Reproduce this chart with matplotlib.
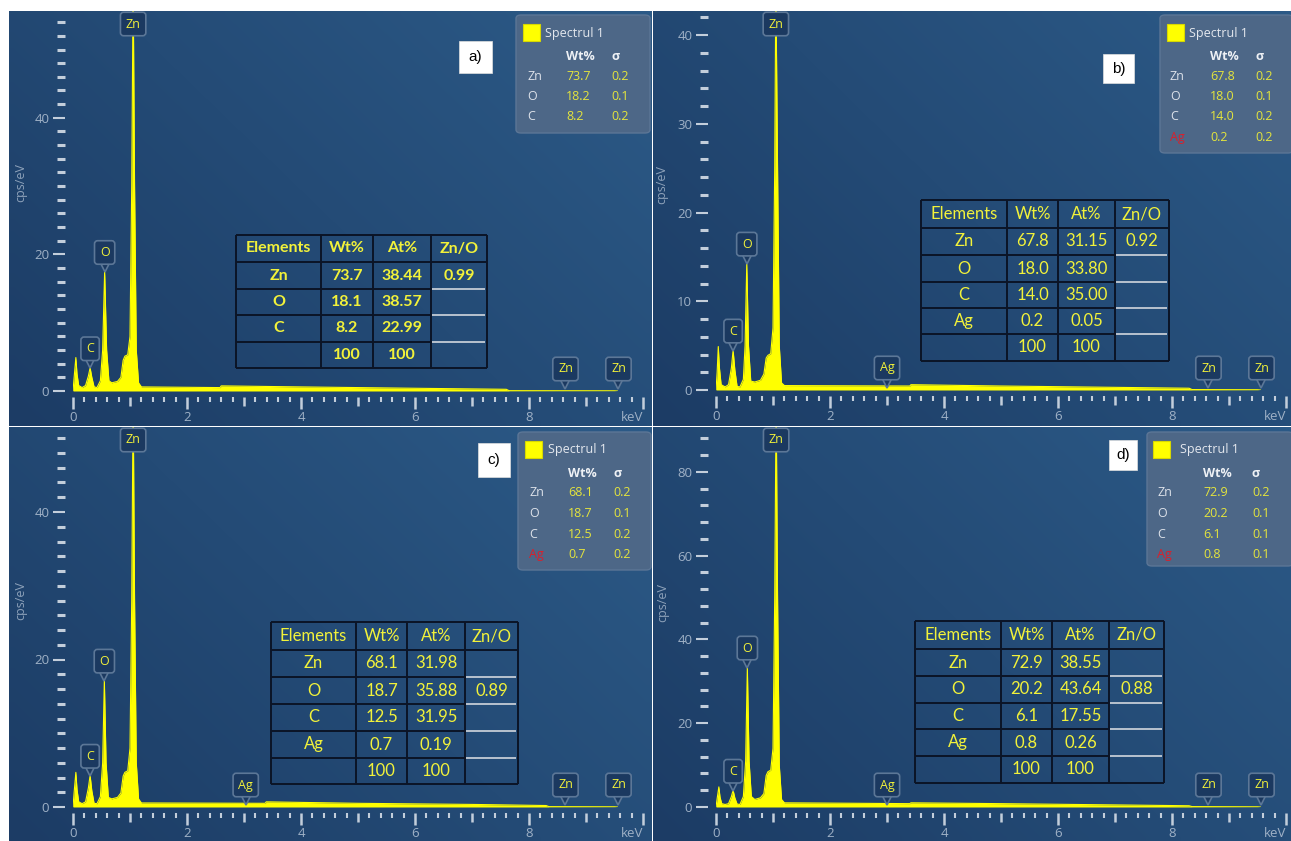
import numpy as np
import matplotlib
matplotlib.use('Agg')
import matplotlib.pyplot as plt
from matplotlib.patches import FancyBboxPatch, Rectangle
from matplotlib.lines import Line2D
from matplotlib.ticker import MultipleLocator, FixedLocator
import matplotlib.transforms as mtransforms
from matplotlib.colors import to_rgb

# ---------------- data ----------------
# EDS spectra (energy keV, counts cps/eV)
energy_a = [0.00, 0.02, 0.05, 0.07, 0.10, 0.16, 0.22, 0.27, 0.30, 0.33, 0.37, 0.42, 0.48, 0.52, 0.555,
            0.59, 0.63, 0.68, 0.78, 0.84, 0.88, 0.91, 0.96, 1.00, 1.03, 1.055, 1.08, 1.11, 1.15, 1.20,
            2.58, 2.60, 4.00, 6.00, 7.60, 7.65, 9.50, 9.55]
counts_a = [0.0, 2.0, 4.9, 2.5, 0.8, 0.5, 0.8, 2.2, 3.4, 2.0, 0.6, 0.5, 1.5, 6.0, 17.5,
            6.0, 1.5, 1.2, 1.4, 2.0, 4.5, 5.1, 5.3, 8.0, 30.0, 60.0, 30.0, 6.0, 1.2, 0.6,
            0.5, 0.75, 0.6, 0.4, 0.25, 0.05, 0.03, 0.0]

energy_b = [0.00, 0.02, 0.04, 0.06, 0.09, 0.16, 0.22, 0.27, 0.30, 0.33, 0.37, 0.42, 0.48, 0.51, 0.54,
            0.57, 0.61, 0.68, 0.78, 0.84, 0.88, 0.91, 0.96, 1.00, 1.03, 1.05, 1.08, 1.11, 1.15, 1.20,
            3.40, 3.42, 5.00, 7.00, 8.30, 8.35, 9.50, 9.55]
counts_b = [0.0, 2.0, 4.9, 2.5, 0.6, 0.35, 0.6, 2.5, 4.5, 2.3, 0.4, 0.35, 1.2, 5.0, 14.3,
            5.0, 1.0, 0.9, 1.1, 1.8, 3.6, 3.9, 4.1, 7.0, 25.0, 46.0, 25.0, 5.0, 0.8, 0.5,
            0.45, 0.6, 0.45, 0.3, 0.2, 0.05, 0.03, 0.0]

energy_c = [0.00, 0.02, 0.05, 0.07, 0.10, 0.16, 0.22, 0.27, 0.30, 0.33, 0.37, 0.42, 0.48, 0.52, 0.55,
            0.58, 0.62, 0.68, 0.78, 0.84, 0.88, 0.91, 0.96, 1.00, 1.03, 1.055, 1.08, 1.11, 1.15, 1.20,
            3.37, 3.39, 5.00, 7.00, 8.30, 8.35, 9.50, 9.55]
counts_c = [0.0, 2.0, 4.7, 2.4, 0.7, 0.45, 0.7, 2.6, 4.3, 2.2, 0.5, 0.45, 1.4, 6.0, 17.2,
            6.0, 1.3, 1.1, 1.3, 1.9, 4.2, 4.7, 4.9, 8.0, 28.0, 56.0, 28.0, 6.0, 1.1, 0.55,
            0.5, 0.7, 0.5, 0.35, 0.2, 0.05, 0.03, 0.0]

energy_d = [0.00, 0.02, 0.05, 0.07, 0.10, 0.16, 0.22, 0.27, 0.30, 0.33, 0.37, 0.42, 0.48, 0.52, 0.55,
            0.58, 0.62, 0.68, 0.78, 0.84, 0.88, 0.91, 0.96, 1.00, 1.03, 1.055, 1.08, 1.11, 1.15, 1.20,
            3.40, 3.42, 5.00, 7.00, 8.30, 8.35, 9.50, 9.55]
counts_d = [0.0, 2.0, 4.8, 2.4, 0.8, 0.6, 0.8, 2.5, 4.0, 2.2, 0.7, 0.6, 2.5, 11.0, 33.4,
            11.0, 2.5, 1.8, 2.2, 3.2, 7.5, 8.4, 8.8, 14.0, 50.0, 98.0, 50.0, 10.0, 1.8, 1.0,
            0.8, 1.0, 0.8, 0.5, 0.3, 0.1, 0.05, 0.0]

# peak markers
peak_names_a = ['C', 'O', 'Zn', 'Zn', 'Zn']
peak_keV_a = [0.30, 0.555, 1.055, 8.64, 9.57]
peak_names_b = ['C', 'O', 'Zn', 'Ag', 'Zn', 'Zn']
peak_keV_b = [0.30, 0.54, 1.05, 3.00, 8.64, 9.57]
peak_names_c = ['C', 'O', 'Zn', 'Ag', 'Zn', 'Zn']
peak_keV_c = [0.30, 0.55, 1.055, 3.03, 8.64, 9.57]
peak_names_d = ['C', 'O', 'Zn', 'Ag', 'Zn', 'Zn']
peak_keV_d = [0.30, 0.55, 1.055, 3.00, 8.64, 9.57]

# legend boxes (Spectrul 1)
leg_elems_a = ['Zn', 'O', 'C']
leg_wt_a = ['73.7', '18.2', '8.2']
leg_sig_a = ['0.2', '0.1', '0.2']
leg_elems_b = ['Zn', 'O', 'C', 'Ag']
leg_wt_b = ['67.8', '18.0', '14.0', '0.2']
leg_sig_b = ['0.2', '0.1', '0.2', '0.2']
leg_elems_c = ['Zn', 'O', 'C', 'Ag']
leg_wt_c = ['68.1', '18.7', '12.5', '0.7']
leg_sig_c = ['0.2', '0.1', '0.2', '0.2']
leg_elems_d = ['Zn', 'O', 'C', 'Ag']
leg_wt_d = ['72.9', '20.2', '6.1', '0.8']
leg_sig_d = ['0.2', '0.1', '0.1', '0.1']

# composition tables
table_header = ['Elements', 'Wt%', 'At%', 'Zn/O']
tab_elems_a = ['Zn', 'O', 'C', '']
tab_wt_a = ['73.7', '18.1', '8.2', '100']
tab_at_a = ['38.44', '38.57', '22.99', '100']
tab_ratio_a = ['0.99', '', '', '']
tab_elems_b = ['Zn', 'O', 'C', 'Ag', '']
tab_wt_b = ['67.8', '18.0', '14.0', '0.2', '100']
tab_at_b = ['31.15', '33.80', '35.00', '0.05', '100']
tab_ratio_b = ['0.92', '', '', '', '']
tab_elems_c = ['Zn', 'O', 'C', 'Ag', '']
tab_wt_c = ['68.1', '18.7', '12.5', '0.7', '100']
tab_at_c = ['31.98', '35.88', '31.95', '0.19', '100']
tab_ratio_c = ['', '0.89', '', '', '']
tab_elems_d = ['Zn', 'O', 'C', 'Ag', '']
tab_wt_d = ['72.9', '20.2', '6.1', '0.8', '100']
tab_at_d = ['38.55', '43.64', '17.55', '0.26', '100']
tab_ratio_d = ['', '0.88', '', '', '']

panel_letters = ['a)', 'b)', 'c)', 'd)']

# ---------------- styling / layout ----------------
W, H = 1291, 841
fig = plt.figure(figsize=(W / 100, H / 100), dpi=100)
fig.patch.set_facecolor('white')

YEL = '#ffff00'
TXTYEL = '#f2f23a'
TICKC = '#c3cedb'
LABC = '#9fb1c6'
FONT = 'Open Sans'
TFONT = 'Lato'


def fx(x):
    return x / W


def fy(y):
    return 1 - y / H


def fig_text(x, y, s, **kw):
    fig.text(fx(x), fy(y), s, transform=fig.transFigure, **kw)


def draw_background(x1, y1, x2, y2):
    bg = fig.add_axes([fx(x1), fy(y2), (x2 - x1) / W, (y2 - y1) / H])
    bl = np.array(to_rgb('#1c3c65'))
    tr = np.array(to_rgb('#2c5a87'))
    n = 64
    u = np.linspace(0, 1, n)
    v = np.linspace(0, 1, n)
    U, V = np.meshgrid(u, v)
    t = (0.6 * U + 0.4 * V)[..., None]
    img = bl * (1 - t) + tr * t
    bg.imshow(img, extent=[0, 1, 0, 1], aspect='auto', origin='lower', interpolation='bilinear')
    bg.set_xlim(0, 1)
    bg.set_ylim(0, 1)
    bg.axis('off')
    return bg


def peak_label(ax, x, y, text, dy_px, top_center=None):
    box = dict(boxstyle='round,pad=0.42,rounding_size=0.25', fc='#1b3960', ec='#5c7797', lw=1.2)
    if top_center is not None:
        # label sitting at the top edge of the panel
        ax.annotate(text, xy=(x, 1), xycoords=('data', 'axes fraction'), xytext=(0, -top_center),
                    textcoords='offset pixels', ha='center', va='center', color=TXTYEL,
                    fontsize=9, family=FONT, bbox=box, zorder=6, annotation_clip=False)
        return
    tri_tr = mtransforms.offset_copy(ax.transData, fig=fig, x=0, y=dy_px + 5.5, units='dots')
    ax.plot([x], [y], marker='v', ms=8, mfc='#1b3960', mec='#5c7797', mew=1.2,
            transform=tri_tr, clip_on=False, zorder=5)
    ax.annotate(text, xy=(x, y), xytext=(0, dy_px + 19), textcoords='offset pixels',
                ha='center', va='center', color=TXTYEL, fontsize=9, family=FONT,
                bbox=box, zorder=6, annotation_clip=False)


def draw_spectrum_panel(rect, origin, ky, energy, counts, names, keVs, ymaj, ymin, ylab_pos):
    x1, y1, x2, y2 = rect
    x0, y0 = origin
    draw_background(x1, y1, x2, y2)
    ymax = (y0 - y1) / ky
    ax = fig.add_axes([fx(x0), fy(y0), 570 / W, (y0 - y1) / H])
    ax.set_facecolor('none')
    ax.set_xlim(0, 10)
    ax.set_ylim(0, ymax)
    ax.fill_between(energy, counts, 0, color=YEL, lw=0, zorder=3)
    ax.plot(energy, counts, color=YEL, lw=0.8, zorder=3)
    for s in ax.spines.values():
        s.set_visible(False)
    ax.spines['left'].set_position(('outward', 6))
    ax.spines['bottom'].set_position(('outward', 4))
    # y ticks
    ax.yaxis.set_major_locator(MultipleLocator(ymaj))
    ax.yaxis.set_minor_locator(MultipleLocator(ymin))
    ax.tick_params(axis='y', which='major', length=8.6, width=1.5, color=TICKC,
                   labelcolor=LABC, labelsize=9.5, pad=2.5)
    ax.tick_params(axis='y', which='minor', length=5.6, width=2.2, color=TICKC)
    # x ticks
    xt = list(range(0, 11))
    xl = ['0', '', '2', '', '4', '', '6', '', '8', '', 'keV']
    ax.xaxis.set_major_locator(FixedLocator(xt))
    ax.set_xticklabels(xl)
    ax.xaxis.set_minor_locator(MultipleLocator(0.2))
    ax.tick_params(axis='x', which='major', length=8.6, width=1.8, color=TICKC,
                   labelcolor=LABC, labelsize=9.5, pad=1.5)
    ax.tick_params(axis='x', which='minor', length=3.6, width=1.5, color=TICKC)
    for i, tk in enumerate(ax.xaxis.get_major_ticks()):
        if i % 2 == 1:
            tk.tick1line.set_markersize(6.4)
    for lab in ax.get_xticklabels():
        lab.set_family(FONT)
        if lab.get_text() == 'keV':
            lab.set_horizontalalignment('right')
    for lab in ax.get_yticklabels():
        lab.set_family(FONT)
    fig_text(ylab_pos[0], ylab_pos[1], 'cps/eV', rotation=90, color='#8ea2ba', fontsize=9,
             family=FONT, ha='center', va='center')
    # peak labels
    e = np.array(energy)
    c = np.array(counts)
    for name, k in zip(names, keVs):
        if name == 'Zn' and k < 2:
            peak_label(ax, k, 0, name, 0, top_center=(y0 - y1) * 0 + 13)
        elif name in ('C', 'O'):
            m = (e > k - 0.04) & (e < k + 0.04)
            peak_label(ax, k, c[m].max(), name, 0)
        else:
            peak_label(ax, k, 0, name, 3)
    return ax


def draw_legend(box, cols, elems, wts, sigs):
    bx1, by1, bx2, by2 = box
    p = FancyBboxPatch((fx(bx1), fy(by2)), (bx2 - bx1) / W, (by2 - by1) / H,
                       boxstyle='round,pad=0,rounding_size=0.004', transform=fig.transFigure,
                       fc='#4d6787', ec='#5c7696', lw=1, zorder=10)
    fig.add_artist(p)
    sq_x, txt_x, elem_x, wt_x, sig_x = cols
    sq = Rectangle((fx(bx1 + sq_x), fy(by1 + 26)), 17 / W, 17 / H, transform=fig.transFigure,
                   fc='#ffff00', ec='#d8d800', lw=0.8, zorder=11)
    fig.add_artist(sq)
    fig_text(bx1 + txt_x, by1 + 18, 'Spectrul 1', color='#e4e8ee', fontsize=9, family=FONT,
             va='center', ha='left', zorder=12)
    fig_text(bx1 + wt_x, by1 + 42, 'Wt%', color='#eef1f5', fontsize=9, family=FONT,
             weight='bold', va='center', ha='left', zorder=12)
    fig_text(bx1 + sig_x, by1 + 42, 'σ', color='#eef1f5', fontsize=9, family=FONT,
             weight='bold', va='center', ha='left', zorder=12)
    for i, (el, w, s) in enumerate(zip(elems, wts, sigs)):
        yy = by1 + 61 + i * 20.5
        ec = '#d9202c' if el == 'Ag' else '#dde2ea'
        fig_text(bx1 + elem_x, yy, el, color=ec, fontsize=9, family=FONT, va='center', ha='left', zorder=12)
        fig_text(bx1 + wt_x, yy, w, color='#e5e53c', fontsize=9, family=FONT, va='center', ha='left', zorder=12)
        fig_text(bx1 + sig_x, yy, s, color='#e5e53c', fontsize=9, family=FONT, va='center', ha='left', zorder=12)


def fig_line(xa, ya, xb, yb, color, lw):
    fig.add_artist(Line2D([fx(xa), fx(xb)], [fy(ya), fy(yb)], transform=fig.transFigure,
                          color=color, lw=lw, zorder=9, solid_capstyle='butt'))


def draw_table(xs, ys, elems, wts, ats, ratios, bold):
    weight = 'bold' if bold else 'normal'
    fs = 11.5 if bold else 12
    black = '#0b1426'
    grey = '#b9c3cf'
    n = len(ys) - 1
    # outer + vertical lines
    for x in xs:
        fig_line(x, ys[0], x, ys[-1], black, 1.4)
    fig_line(xs[0], ys[0], xs[-1], ys[0], black, 1.4)
    fig_line(xs[0], ys[-1], xs[-1], ys[-1], black, 1.4)
    fig_line(xs[0], ys[1], xs[-1], ys[1], black, 1.4)
    for j in range(2, n):
        fig_line(xs[0], ys[j], xs[3], ys[j], black, 1.4)
        fig_line(xs[3] + 1, ys[j], xs[4] - 2, ys[j], grey, 1.4)
    rows = [table_header] + [[e, w, a, r] for e, w, a, r in zip(elems, wts, ats, ratios)]
    for j, row in enumerate(rows):
        yc = 0.5 * (ys[j] + ys[j + 1])
        for i, s in enumerate(row):
            if not s:
                continue
            xc = 0.5 * (xs[i] + xs[i + 1])
            fig_text(xc, yc, s, color=TXTYEL, fontsize=fs, family=TFONT, weight=weight,
                     ha='center', va='center', zorder=12)


def draw_letter(rect, s):
    x, y, w, h = rect
    fig.add_artist(Rectangle((fx(x), fy(y + h)), w / W, h / H, transform=fig.transFigure,
                             fc='white', ec='#e0e0e0', lw=0.5, zorder=13))
    fig_text(x + w / 2, y + h / 2, s, color='black', fontsize=11, family='Liberation Sans',
             ha='center', va='center', zorder=14)


# ---------------- panels ----------------
draw_spectrum_panel((9, 11, 652, 426), (73, 391), 6.83, energy_a, counts_a,
                    peak_names_a, peak_keV_a, 20, 2, (21, 182))
draw_spectrum_panel((653, 11, 1291, 426), (716, 390), 8.87, energy_b, counts_b,
                    peak_names_b, peak_keV_b, 10, 2, (662, 185))
draw_spectrum_panel((9, 427, 652, 841), (73, 807), 7.375, energy_c, counts_c,
                    peak_names_c, peak_keV_c, 20, 2, (21, 600))
draw_spectrum_panel((653, 427, 1291, 841), (716, 807), 4.19, energy_d, counts_d,
                    peak_names_d, peak_keV_d, 20, 4, (663, 603))

draw_legend((516, 15, 650, 133), (7, 29, 11, 50, 95), leg_elems_a, leg_wt_a, leg_sig_a)
draw_legend((1160, 15, 1293, 153), (7, 29, 10, 50, 95), leg_elems_b, leg_wt_b, leg_sig_b)
draw_legend((518, 432, 651, 570), (7, 30, 11, 50, 95), leg_elems_c, leg_wt_c, leg_sig_c)
draw_legend((1147, 432, 1293, 566), (6, 33, 10, 56, 105), leg_elems_d, leg_wt_d, leg_sig_d)

draw_table([236, 321, 373, 431, 487], [235, 262, 289, 315, 342, 368],
           tab_elems_a, tab_wt_a, tab_at_a, tab_ratio_a, True)
draw_table([921, 1007, 1058, 1115, 1169], [200, 228, 255, 282, 308, 334, 361],
           tab_elems_b, tab_wt_b, tab_at_b, tab_ratio_b, False)
draw_table([271, 356, 407, 465, 518], [622, 650, 677, 704, 731, 758, 784],
           tab_elems_c, tab_wt_c, tab_at_c, tab_ratio_c, False)
draw_table([915, 1001, 1052, 1109, 1164], [621, 649, 676, 703, 729, 756, 783],
           tab_elems_d, tab_wt_d, tab_at_d, tab_ratio_d, False)

draw_letter((459, 41, 33, 32), panel_letters[0])
draw_letter((1103, 54, 31, 29), panel_letters[1])
draw_letter((478, 443, 32, 34), panel_letters[2])
draw_letter((1109, 440, 28, 30), panel_letters[3])

fig.savefig('out.png', dpi=100, facecolor='white')
